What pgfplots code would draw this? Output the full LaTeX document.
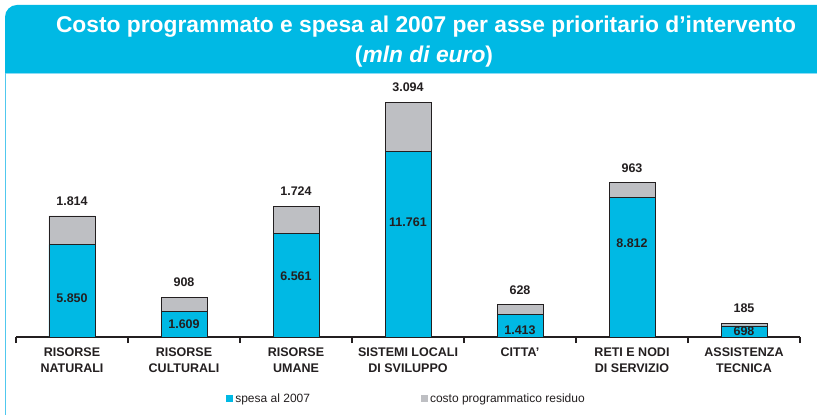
\documentclass[border=0pt]{standalone}
\usepackage{pgfplots}
\usepackage{pgfplotstable}
\pgfplotsset{compat=1.18}
\usepackage{fontspec}
\setmainfont{Liberation Sans}
\definecolor{cy}{RGB}{0,185,228}
\definecolor{gr}{RGB}{190,191,195}
\definecolor{dk}{RGB}{35,31,32}
\definecolor{bordercy}{RGB}{80,200,238}
\definecolor{lightcy}{RGB}{140,220,245}
\pgfplotstableread{
x spesa residuo
0 5850 1814
1 1609 908
2 6561 1724
3 11761 3094
4 1413 628
5 8812 963
6 698 185
}\mytab
\begin{document}
\begin{tikzpicture}
\useasboundingbox (0pt,0pt) rectangle (817pt,415pt);
\fill[white] (0pt,0pt) rectangle (817pt,415pt);
\fill[cy] (5pt,342pt) -- (817pt,342pt) -- (817pt,410pt) -- (17pt,410pt) arc[start angle=90,end angle=180,radius=12pt] -- cycle;
\draw[lightcy, line width=1pt] (5pt,341.5pt) -- (817pt,341.5pt);
\draw[bordercy, line width=1.5pt] (5.5pt,0pt) -- (5.5pt,342pt);
\node[white,anchor=base,inner sep=0pt,font=\bfseries\fontsize{22.8}{26}\selectfont] at (426pt,382pt) {Costo programmato e spesa al 2007 per asse prioritario d'intervento};
\node[white,anchor=base,inner sep=0pt,font=\bfseries\fontsize{22.8}{26}\selectfont] at (424pt,352pt) {(\textit{mln di euro})};
\begin{axis}[
  at={(16pt,78pt)}, anchor=south west,
  scale only axis, width=784pt, height=257pt,
  ybar stacked, bar width=46pt,
  xmin=-0.5, xmax=6.5, ymin=0, ymax=16266,
  axis y line=none, axis x line*=bottom,
  x axis line style={dk, line width=2pt},
  xtick={-0.5,0.5,...,6.5}, xticklabels={},
  tick align=outside, major tick length=6pt,
  xtick style={dk, line width=1.5pt},
  xticklabel style={align=center, font=\bfseries\fontsize{12.5}{16}\selectfont, text=dk, inner sep=0pt, anchor=north, yshift=-11pt},
  extra x ticks={0,1,2,3,4,5,6},
  extra x tick labels={{RISORSE\\NATURALI},{RISORSE\\CULTURALI},{RISORSE\\UMANE},{SISTEMI LOCALI\\DI SVILUPPO},{CITTA’},{RETI E NODI\\DI SERVIZIO},{ASSISTENZA\\TECNICA}},
  extra x tick style={major tick length=0pt},
  legend columns=2,
  legend style={draw=none, fill=none, at={(0.268,-0.239)}, anchor=west, inner sep=0pt, font=\fontsize{12}{14}\selectfont, text=dk, /tikz/every even column/.append style={column sep=109pt}},
  legend image code/.code={\path[fill, draw=none] (0pt,-3.5pt) rectangle (7pt,3.5pt);},
  clip=false,
]
\addplot[fill=cy, draw=dk, line width=0.7pt] table[x=x,y=spesa]{\mytab};
\addplot[fill=gr, draw=dk, line width=0.7pt] table[x=x,y=residuo]{\mytab};
\legend{spesa al 2007, costo programmatico residuo}
\coordinate (v0) at (axis cs:0,2470);
\coordinate (v1) at (axis cs:1,790);
\coordinate (v2) at (axis cs:2,3860);
\coordinate (v3) at (axis cs:3,7280);
\coordinate (v4) at (axis cs:4,410);
\coordinate (v5) at (axis cs:5,5950);
\coordinate (v6) at (axis cs:6,380);
\coordinate (t0) at (axis cs:0,7664);
\coordinate (t1) at (axis cs:1,2517);
\coordinate (t2) at (axis cs:2,8285);
\coordinate (t3) at (axis cs:3,14855);
\coordinate (t4) at (axis cs:4,2041);
\coordinate (t5) at (axis cs:5,9775);
\coordinate (t6) at (axis cs:6,883);
\end{axis}
\begin{scope}[every node/.style={font=\bfseries\fontsize{12.5}{14}\selectfont, text=dk, inner sep=0pt}]
\node at (v0) {5.850};
\node at (v1) {1.609};
\node at (v2) {6.561};
\node at (v3) {11.761};
\node at (v4) {1.413};
\node at (v5) {8.812};
\node at (v6) {698};
\node[anchor=south, yshift=10pt] at (t0) {1.814};
\node[anchor=south, yshift=10pt] at (t1) {908};
\node[anchor=south, yshift=10pt] at (t2) {1.724};
\node[anchor=south, yshift=10pt] at (t3) {3.094};
\node[anchor=south, yshift=10pt] at (t4) {628};
\node[anchor=south, yshift=10pt] at (t5) {963};
\node[anchor=south, yshift=10pt] at (t6) {185};
\end{scope}
\end{tikzpicture}
\end{document}
